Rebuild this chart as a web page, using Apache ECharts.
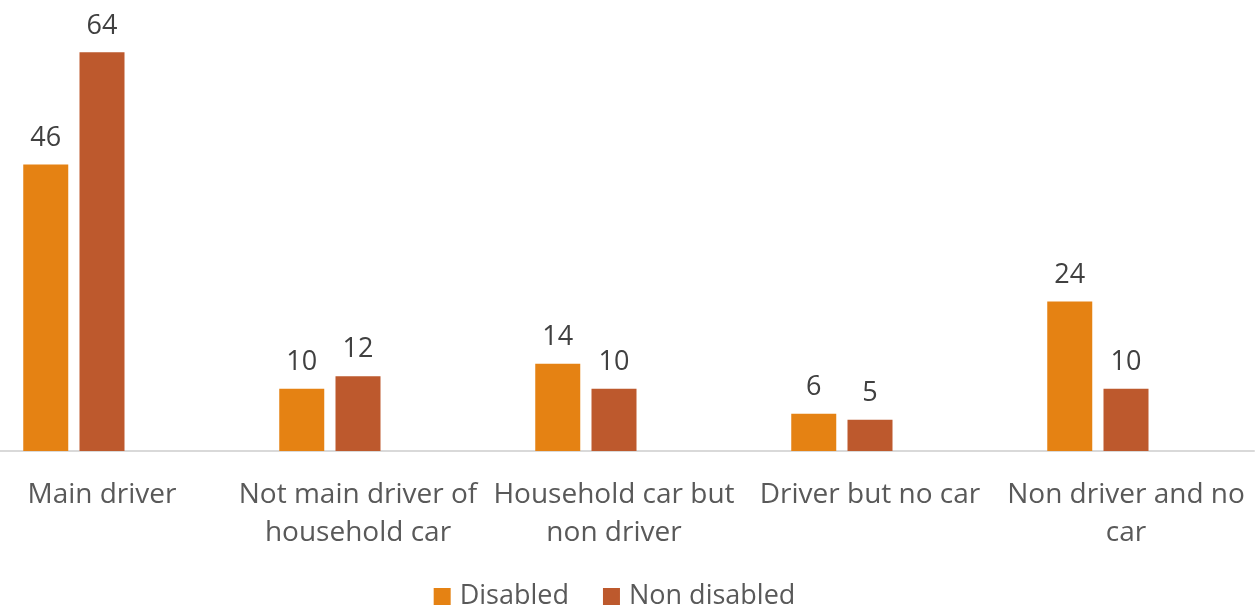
<!DOCTYPE html>
<html>
<head>
<meta charset="utf-8">
<script src="https://cdn.jsdelivr.net/npm/echarts@6/dist/echarts.min.js"></script>
<style>
  html, body { margin: 0; padding: 0; background: #ffffff; overflow: hidden; width: 1255px; height: 613px; }
  #wrap { position: relative; width: 1255px; height: 613px; overflow: hidden; }
  #chart { position: absolute; left: -26px; top: 0; width: 1281px; height: 613px; }
</style>
</head>
<body>
<div id="wrap"><div id="chart"></div></div>
<script>
// Car access by disability status (%)
const categories = [
  'Main driver',
  'Not main driver of\nhousehold car',
  'Household car but\nnon driver',
  'Driver but no car',
  'Non driver and no\ncar'
];
const disabled = [46, 10, 14, 6, 24];
const nonDisabled = [64, 12, 10, 5, 10];
// third slot in each group is left empty
const spare = ['-', '-', '-', '-', '-'];

const FONT = '"Open Sans", "Noto Sans", sans-serif';

const chart = echarts.init(document.getElementById('chart'), null, { renderer: 'canvas' });

const labelStyle = {
  show: true,
  position: 'top',
  distance: 13,
  color: '#404040',
  fontFamily: FONT,
  fontSize: 27
};

chart.setOption({
  animation: false,
  backgroundColor: '#ffffff',
  grid: { left: 0, right: 1, top: 15, bottom: 162, containLabel: false },
  legend: {
    data: ['Disabled', 'Non disabled'],
    bottom: -2,
    left: 'center',
    itemWidth: 17,
    itemHeight: 17,
    itemGap: 34,
    icon: 'rect',
    textStyle: { color: '#595959', fontFamily: FONT, fontSize: 27, padding: [0, 0, 0, 4] }
  },
  xAxis: {
    type: 'category',
    data: categories,
    axisTick: { show: false },
    axisLine: { lineStyle: { color: '#d9d9d9', width: 2 } },
    axisLabel: {
      color: '#595959',
      fontFamily: FONT,
      fontSize: 28,
      lineHeight: 38,
      margin: 25,
      interval: 0
    }
  },
  yAxis: {
    type: 'value',
    min: 0,
    max: 70,
    show: false,
    splitLine: { show: false }
  },
  series: [
    {
      name: 'Disabled',
      type: 'bar',
      data: disabled,
      barWidth: 45,
      barGap: '25%',
      itemStyle: { color: '#E58213' },
      label: labelStyle
    },
    {
      name: 'Non disabled',
      type: 'bar',
      data: nonDisabled,
      barWidth: 45,
      barGap: '25%',
      itemStyle: { color: '#BD592D' },
      label: labelStyle
    },
    {
      name: 'Other',
      type: 'bar',
      data: spare,
      barWidth: 45,
      barGap: '25%',
      itemStyle: { color: '#A5A5A5' },
      label: { show: false }
    }
  ]
});
</script>
</body>
</html>
